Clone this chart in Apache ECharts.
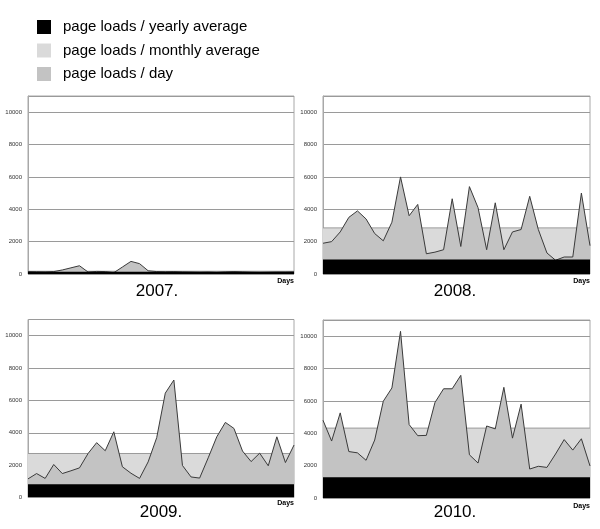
<!DOCTYPE html>
<html>
<head>
<meta charset="utf-8">
<script src="https://cdn.jsdelivr.net/npm/echarts@6/dist/echarts.min.js"></script>
<style>
  html, body { margin: 0; padding: 0; background: #ffffff; }
  #chart { width: 600px; height: 529px; }
</style>
</head>
<body>
<div id="chart"></div>
<script>
// ---- data ----
const days = [1,2,3,4,5,6,7,8,9,10,11,12,13,14,15,16,17,18,19,20,21,22,23,24,25,26,27,28,29,30,31,32];
const years = ['2007.', '2008.', '2009.', '2010.'];
const daily2007 = [150,140,130,150,250,380,510,120,160,150,80,430,780,640,200,150,140,150,130,120,110,120,100,130,150,130,110,100,110,120,120,130];
const daily2008 = [1900,2000,2600,3500,3900,3400,2500,2050,3200,6000,3600,4300,1250,1350,1500,4650,1700,5400,4100,1500,4400,1500,2600,2750,4800,2750,1300,850,1050,1050,5000,1750];
const daily2009 = [1150,1480,1180,2040,1480,1650,1830,2720,3390,2890,4060,1900,1500,1180,2200,3700,6450,7260,1980,1270,1200,2450,3750,4640,4270,2870,2220,2740,1960,3750,2160,3240];
const daily2010 = [4800,3520,5260,2870,2790,2330,3580,5980,6800,10300,4540,3850,3870,5900,6750,6750,7580,2670,2160,4450,4270,6840,3700,5800,1790,1960,1890,2720,3610,2960,3660,1980];
const monthlyAverage = [170, 2850, 2720, 4320];
const yearlyAverage = [140, 890, 820, 1290];
const yTicks = [0, 2000, 4000, 6000, 8000, 10000];

const dailyAll = [daily2007, daily2008, daily2009, daily2010];
const NAME_Y = 'page loads / yearly average';
const NAME_M = 'page loads / monthly average';
const NAME_D = 'page loads / day';

// ---- layout ----
const grids = [
  { left: 28, top: 96, width: 266, height: 178 },
  { left: 323, top: 96, width: 267, height: 178 },
  { left: 28, top: 319.5, width: 266, height: 178 },
  { left: 323, top: 320, width: 267, height: 178 }
];
const titlePos = [[157, 291], [455, 291], [161, 512], [455, 512]];
const daysPos = [[294, 281.5], [590, 281.5], [294, 503.5], [590, 506]];

const FONT = '"Liberation Sans", Arial, sans-serif';

const option = {
  backgroundColor: '#ffffff',
  animation: false,
  textStyle: { fontFamily: FONT },
  legend: {
    data: [NAME_Y, NAME_M, NAME_D],
    orient: 'vertical',
    left: 32,
    top: 14.5,
    icon: 'rect',
    itemWidth: 14,
    itemHeight: 14,
    itemGap: 8.5,
    itemStyle: { borderWidth: 0 },
    textStyle: { fontSize: 15, color: '#000', fontFamily: FONT, lineHeight: 14, padding: [0, 0, 0, 7] },
    selectedMode: false
  },
  grid: grids.map(g => Object.assign({ show: true, borderColor: '#a8a8a8', borderWidth: 1, containLabel: false }, g)),
  xAxis: grids.map((g, i) => ({
    type: 'category',
    gridIndex: i,
    data: days,
    boundaryGap: false,
    axisLine: { show: false },
    axisTick: { show: false },
    axisLabel: { show: false },
    splitLine: { show: false }
  })),
  yAxis: grids.map((g, i) => ({
    type: 'value',
    gridIndex: i,
    min: 0,
    max: 11000,
    interval: 2000,
    axisLine: { show: true, lineStyle: { color: '#a8a8a8', width: 1 } },
    axisTick: { show: false },
    axisLabel: {
      fontSize: 6,
      color: '#333',
      margin: 6,
      fontFamily: FONT,
      formatter: v => (yTicks.indexOf(v) >= 0 ? String(v) : '')
    },
    splitLine: { show: true, lineStyle: { color: '#9a9a9a', width: 1 } }
  })),
  series: [],
  graphic: []
};

for (let i = 0; i < 4; i++) {
  const last = days.length - 1;
  option.series.push({
    name: NAME_M,
    type: 'line',
    xAxisIndex: i, yAxisIndex: i,
    data: [[0, monthlyAverage[i]], [last, monthlyAverage[i]]],
    showSymbol: false,
    color: '#dadada',
    itemStyle: { color: '#dadada' },
    lineStyle: { color: '#9a9a9a', width: 1 },
    areaStyle: { color: '#dadada', opacity: 1 },
    z: 1
  });
  option.series.push({
    name: NAME_D,
    type: 'line',
    xAxisIndex: i, yAxisIndex: i,
    data: dailyAll[i],
    showSymbol: false,
    color: '#c3c3c3',
    itemStyle: { color: '#c3c3c3' },
    lineStyle: { color: '#3a3a3a', width: 1 },
    areaStyle: { color: '#c3c3c3', opacity: 1 },
    z: 2
  });
  option.series.push({
    name: NAME_Y,
    type: 'line',
    xAxisIndex: i, yAxisIndex: i,
    data: [[0, yearlyAverage[i]], [last, yearlyAverage[i]]],
    showSymbol: false,
    color: '#000000',
    itemStyle: { color: '#000000' },
    lineStyle: { color: '#000000', width: 0 },
    areaStyle: { color: '#000000', opacity: 1 },
    z: 3
  });
  option.graphic.push({
    type: 'text',
    x: titlePos[i][0], y: titlePos[i][1],
    style: { text: years[i], fontSize: 17, fontFamily: FONT, fill: '#000', textAlign: 'center', textVerticalAlign: 'middle' },
    z: 10
  });
  option.graphic.push({
    type: 'text',
    x: daysPos[i][0], y: daysPos[i][1],
    style: { text: 'Days', fontSize: 7, fontWeight: 'bold', fontFamily: FONT, fill: '#000', textAlign: 'right', textVerticalAlign: 'middle' },
    z: 10
  });
}

const chart = echarts.init(document.getElementById('chart'), null, { renderer: 'canvas' });
chart.setOption(option);
</script>
</body>
</html>
